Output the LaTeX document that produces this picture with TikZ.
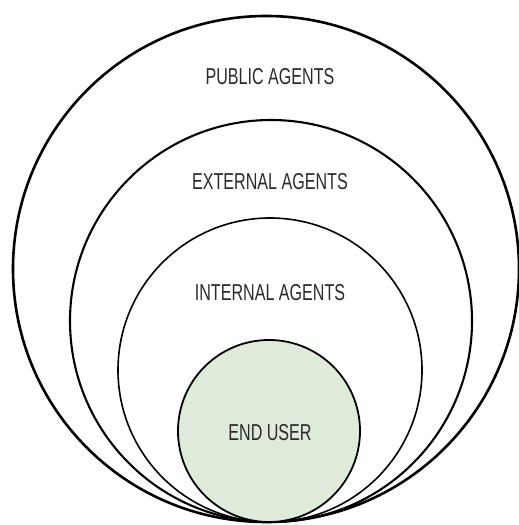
\documentclass[tikz,border=0pt]{standalone}
\usepackage{fontspec}
\usepackage{xcolor}
\definecolor{userfill}{HTML}{DFEBDA}
\definecolor{inkgray}{HTML}{2A2A2A}
\newfontfamily\agentfont[FakeStretch=0.7]{Liberation Sans}
\usepackage{tikz}

\begin{document}
\begin{tikzpicture}[x=1pt,y=1pt]
\tikzset{
 ring/.style={draw=black,circle,inner sep=0pt},
 lbl/.style={font=\agentfont\fontsize{23}{25}\selectfont,text=inkgray,inner sep=0pt}
}
\useasboundingbox (0,0) rectangle (519,525);
\node[ring,line width=2.6pt,minimum size=506pt] (public) at (266,256) {};
\node[ring,line width=2.1pt,minimum size=402pt] (external) at (271,204) {};
\node[ring,line width=1.6pt,minimum size=304pt] (internal) at (270,155) {};
\node[ring,line width=1.8pt,fill=userfill,minimum size=182pt] (user) at (269,94) {};
\node[lbl] (publiclbl) at (270,448) {PUBLIC AGENTS};
\node[lbl] (externallbl) at (270,343) {EXTERNAL AGENTS};
\node[lbl] (internallbl) at (270,232) {INTERNAL AGENTS};
\node[lbl] (userlbl) at (270,92) {END USER};
\end{tikzpicture}
\end{document}
